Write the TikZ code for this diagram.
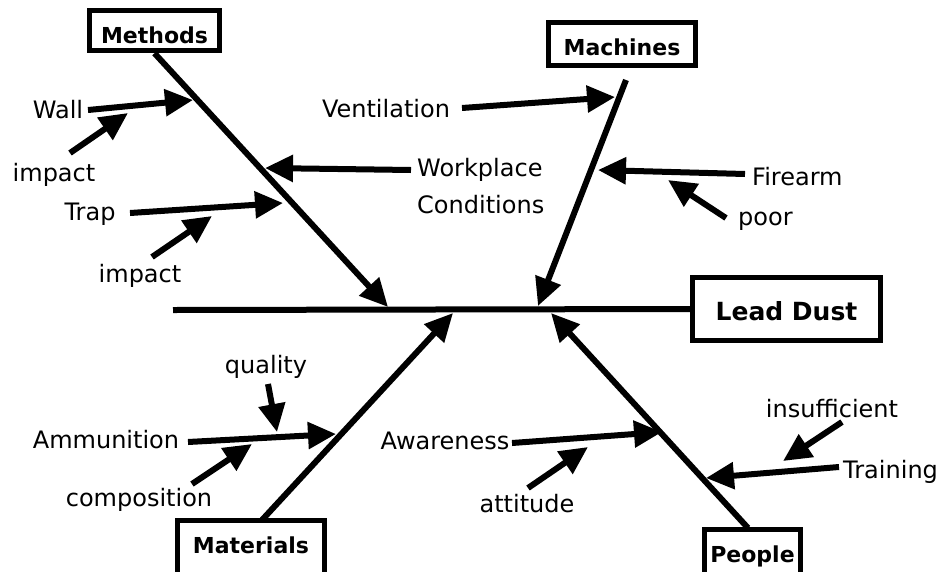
\documentclass[tikz,border=0pt]{standalone}
\usepackage{fontspec}
\setmainfont{DejaVu Sans}
\usetikzlibrary{arrows.meta}
\begin{document}
\begin{tikzpicture}[x=1pt,y=-1pt,
  lbl/.style={font=\fontsize{24}{28}\selectfont, inner sep=0pt, anchor=base},
  boxlbl/.style={draw, line width=5.5pt, font=\bfseries\fontsize{22}{26}\selectfont,
    inner xsep=0pt, inner ysep=0pt, text height=32.5pt, anchor=base},
  bone/.style={line width=6pt},
  arr/.style={line width=6pt, -{Triangle[length=28pt,width=26pt]}},
]
\useasboundingbox (0,0) rectangle (944,571);
\clip (0,0) rectangle (944,571);

% boxes
\node[boxlbl, minimum width=130pt, text depth=7.5pt] (methods) at (154.5,43) {Methods};
\node[boxlbl, minimum width=147pt, text depth=10.5pt] (machines) at (622,55) {Machines};
\node[boxlbl, minimum width=188pt, text height=42.5pt, text depth=20.5pt,
      font=\bfseries\fontsize{25}{30}\selectfont] (lead) at (786.5,320) {Lead Dust};
\node[boxlbl, minimum width=147pt, text depth=40pt] (materials) at (251,553) {Materials};
\node[boxlbl, minimum width=96pt, text depth=40pt] (people) at (752.5,562) {People};

% labels
\node[lbl] (wall) at (58,118) {Wall};
\node[lbl] (impactA) at (54,181) {impact};
\node[lbl] (trap) at (90,220) {Trap};
\node[lbl] (impactB) at (140,282) {impact};
\node[lbl, anchor=base west] (work) at (417,176) {Workplace};
\node[lbl, anchor=base west] (cond) at (417,213) {Conditions};
\node[lbl] (vent) at (386,117) {Ventilation};
\node[lbl, anchor=base west] (fire) at (752,185) {Firearm};
\node[lbl, anchor=base west] (poor) at (738,225) {poor};
\node[lbl] (quality) at (266,373) {quality};
\node[lbl] (ammo) at (106,448) {Ammunition};
\node[lbl] (comp) at (139,506) {composition};
\node[lbl] (aware) at (445,449) {Awareness};
\node[lbl] (attitude) at (527,512) {attitude};
\node[lbl] (insuff) at (832,417) {insufficient};
\node[lbl, anchor=base west] (train) at (843,478) {Training};

% coordinates
\coordinate (spineL) at (173,310);
\coordinate (mT) at (388,307);
\coordinate (machS) at (626,80);   \coordinate (machT) at (538,306);
\coordinate (matS) at (262,520);   \coordinate (matT) at (453,313);
\coordinate (peoS) at (748,528);   \coordinate (peoT) at (551,313);
\coordinate (wallS) at (88,110);   \coordinate (wallT) at (193,100);
\coordinate (impAS) at (70,153);   \coordinate (impAT) at (128,113);
\coordinate (workS) at (411,170);  \coordinate (workT) at (265,168);
\coordinate (trapS) at (130,213);  \coordinate (trapT) at (283,203);
\coordinate (impBS) at (152,257);  \coordinate (impBT) at (212,216);
\coordinate (ventS) at (462,108);  \coordinate (ventT) at (615,97);
\coordinate (fireS) at (745,174);  \coordinate (fireT) at (598,170);
\coordinate (poorS) at (726,218);  \coordinate (poorT) at (668,180);
\coordinate (ammoS) at (188,442);  \coordinate (ammoT) at (336,434);
\coordinate (qualS) at (268,384);  \coordinate (qualT) at (277,432);
\coordinate (compS) at (192,484);  \coordinate (compT) at (252,444);
\coordinate (awS) at (512,443);    \coordinate (awT) at (662,432);
\coordinate (attS) at (528,488);   \coordinate (attT) at (588,447);
\coordinate (trS) at (839,467);    \coordinate (trT) at (706,478);
\coordinate (insS) at (842,422);   \coordinate (insT) at (783,461);

% spine and bones
\draw[bone] (spineL) -- (lead.west);
\draw[arr] (methods.south) -- (mT);
\draw[arr] (machS) -- (machT);
\draw[arr] (matS) -- (matT);
\draw[arr] (peoS) -- (peoT);

% causes
\draw[arr] (wallS) -- (wallT);
\draw[arr] (impAS) -- (impAT);
\draw[arr] (workS) -- (workT);
\draw[arr] (trapS) -- (trapT);
\draw[arr] (impBS) -- (impBT);
\draw[arr] (ventS) -- (ventT);
\draw[arr] (fireS) -- (fireT);
\draw[arr] (poorS) -- (poorT);
\draw[arr] (ammoS) -- (ammoT);
\draw[arr] (qualS) -- (qualT);
\draw[arr] (compS) -- (compT);
\draw[arr] (awS) -- (awT);
\draw[arr] (attS) -- (attT);
\draw[arr] (trS) -- (trT);
\draw[arr] (insS) -- (insT);
\end{tikzpicture}
\end{document}
